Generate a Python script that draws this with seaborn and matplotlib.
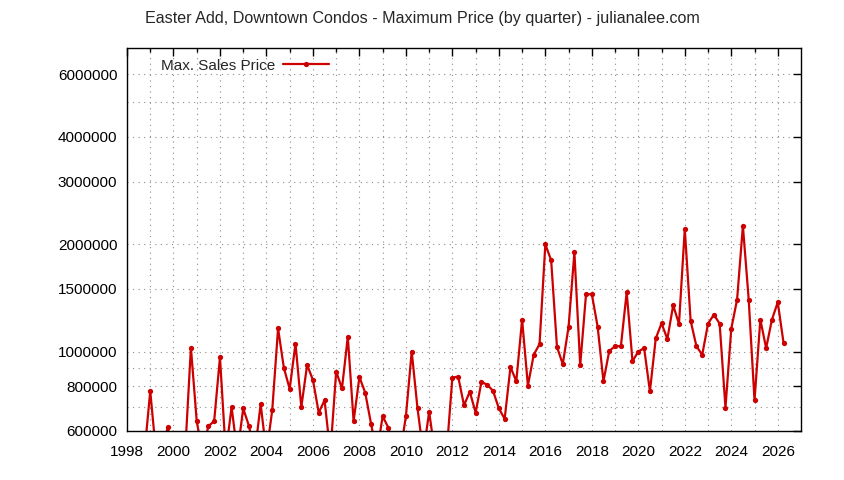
import numpy as np
import pandas as pd
import matplotlib
matplotlib.use("Agg")
import matplotlib.pyplot as plt
import seaborn as sns

# quarterly max sale prices, 1998 Q1 .. 2026 Q2 (values under 600k fall off the chart)
LOW = 520000
quarters = np.arange(1998.0, 2026.26, 0.25)
prices = [
    LOW, LOW, LOW, LOW,                 # 1998
    776000, LOW, LOW, 615000,           # 1999
    LOW, LOW, LOW, 1028000,             # 2000
    639000, LOW, 619000, 639000,        # 2001
    965000, LOW, 700000, LOW,           # 2002
    694000, 619000, LOW, 714000,        # 2003
    LOW, 687000, 1163000, 901000,       # 2004
    787000, 1055000, 700000, 919000,    # 2005
    834000, 675000, 732000, LOW,        # 2006
    880000, 790000, 1102000, 639000,    # 2007
    850000, 768000, 629000, LOW,        # 2008
    660000, 612000, LOW, LOW,           # 2009
    659000, 1002000, 694000, LOW,       # 2010
    679000, LOW, LOW, LOW,              # 2011
    847000, 852000, 708000, 773000,     # 2012
    675000, 823000, 809000, 777000,     # 2013
    694000, 649000, 907000, 827000,     # 2014
    1231000, 804000, 981000, 1051000,   # 2015
    2001000, 1804000, 1033000, 923000,  # 2016
    1176000, 1900000, 917000, 1450000,  # 2017
    1450000, 1176000, 827000, 1006000,  # 2018
    1037000, 1037000, 1469000, 941000,  # 2019
    1002000, 1024000, 775000, 1090000,  # 2020
    1202000, 1086000, 1350000, 1197000, # 2021
    2211000, 1223000, 1037000, 981000,  # 2022
    1199000, 1271000, 1199000, 697000,  # 2023
    1161000, 1401000, 2254000, 1401000, # 2024
    731000, 1231000, 1024000, 1231000,  # 2025
    1377000, 1058000,                   # 2026
]

ytick_vals = [600000, 800000, 1000000, 1500000, 2000000, 3000000, 4000000, 6000000]
ytick_minor = [700000, 900000, 5000000]
xtick_major = list(range(1998, 2027, 2))
xtick_minor = list(range(1999, 2027, 2))

title = "Easter Add, Downtown Condos - Maximum Price (by quarter) - julianalee.com"

sns.set_style("white")
plt.rcParams["font.family"] = ["Liberation Sans", "DejaVu Sans"]
plt.rcParams["font.size"] = 11

df = pd.DataFrame({"quarter": quarters, "price": prices})

fig = plt.figure(figsize=(8.44, 4.8), dpi=100)
ax = fig.add_axes([127 / 844, 1 - 431 / 480, 674 / 844, 383 / 480])

sns.lineplot(data=df, x="quarter", y="price", ax=ax, color="#cc0000",
             linewidth=1.6, marker="o", markersize=3.8, markeredgewidth=0,
             label="Max. Sales Price")

ax.set_yscale("log")
ax.set_xlim(1998, 2027)
ax.set_ylim(600000, 7.1e6)

ax.set_yticks(ytick_vals, labels=[str(v) for v in ytick_vals])
ax.set_yticks(ytick_minor, minor=True)
ax.set_yticklabels([], minor=True)
ax.set_xticks(xtick_major, labels=[str(v) for v in xtick_major])
ax.set_xticks(xtick_minor, minor=True)

ax.grid(True, which="both", linestyle=(0, (1, 4)), color="#8c8c8c", linewidth=0.8)
ax.tick_params(which="both", direction="in", top=True, right=True, colors="black",
               labelsize=11)
ax.tick_params(which="major", length=6, width=1)
ax.tick_params(which="minor", length=3, width=1)
ax.tick_params(axis="y", which="minor", length=0)
ax.tick_params(axis="x", which="major", pad=10)
ax.tick_params(axis="y", which="major", pad=7)
for s in ax.spines.values():
    s.set_color("black")
    s.set_linewidth(1)

ax.set_xlabel("")
ax.set_ylabel("")

ax.legend(loc="upper left", bbox_to_anchor=(0.035, 1.0), frameon=False,
          markerfirst=False, handlelength=3.0, handletextpad=0.5,
          fontsize=11, borderaxespad=0.3)

fig.text(0.5, 1 - 18 / 480, title, ha="center", va="center", fontsize=11.6)

fig.savefig("out.png", dpi=100)
